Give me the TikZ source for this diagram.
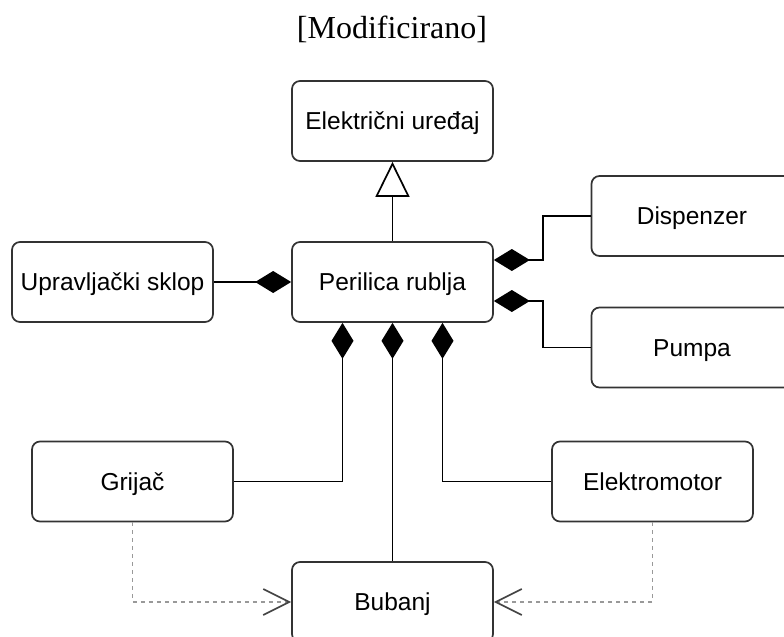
\documentclass[tikz,border=0pt]{standalone}
\usepackage{fontspec}
\setmainfont{Liberation Sans}
\newfontfamily\titlefont{Liberation Serif}
\usetikzlibrary{arrows.meta}
\definecolor{boxc}{HTML}{333333}
\definecolor{dashc}{HTML}{999999}
\definecolor{tipc}{HTML}{444444}
\begin{document}
\begin{tikzpicture}[x=1bp,y=-1bp,
  box/.style={draw=boxc, line width=1.7bp, rounded corners=8bp,
    minimum width=201bp, minimum height=80bp, inner sep=0pt,
    text height=17.5bp, text depth=0pt,
    font=\fontsize{24.5bp}{29bp}\selectfont, text=black},
  comp/.style={line width=1.7bp, draw=black,
    {Diamond[length=36bp,width=22bp,fill=black]}-},
  gen/.style={line width=1.7bp, draw=black,
    -{Triangle[open,length=35bp,width=34bp,fill=white]}},
  dep/.style={line width=1.7bp, draw=dashc, dash pattern=on 4bp off 4bp,
    -{Straight Barb[length=26bp,width=26bp,line width=1.7bp,color=tipc]}}]
\path[use as bounding box] (0,0) rectangle (784,637);
\clip (0,0) rectangle (784,637);
\node[font=\titlefont\fontsize{32bp}{36bp}\selectfont, inner sep=0pt] (title) at (392,29) {[Modificirano]};
\node[box] (ele) at (392.5,121) {Električni uređaj};
\node[box] (per) at (392.5,282) {Perilica rublja};
\node[box] (upr) at (112.5,282) {Upravljački sklop};
\node[box] (dis) at (692,216) {Dispenzer};
\node[box] (pum) at (692,347.5) {Pumpa};
\node[box] (gri) at (132.5,481.5) {Grijač};
\node[box] (elm) at (652.5,481.5) {Elektromotor};
\node[box] (bub) at (392.5,602) {Bubanj};
\draw[gen] (per.north) -- (ele.south);
\draw[comp] (per.west) -- (upr.east);
\draw[comp] ([yshift=22bp]per.east) -- ++(49,0) |- (dis.west);
\draw[comp] ([yshift=-19bp]per.east) -- ++(49,0) |- (pum.west);
\draw[comp] ([xshift=-50bp]per.south) |- (gri.east);
\draw[comp] (per.south) -- (bub.north);
\draw[comp] ([xshift=50bp]per.south) |- (elm.west);
\draw[dep] (gri.south) |- (bub.west);
\draw[dep] (elm.south) |- (bub.east);
\end{tikzpicture}
\end{document}
